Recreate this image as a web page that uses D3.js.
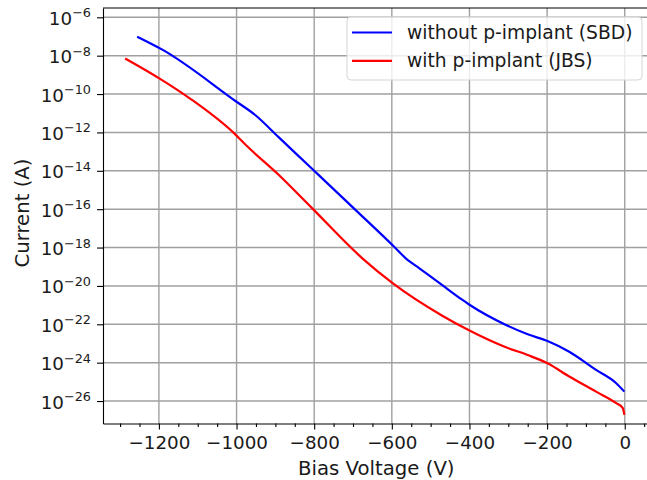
<!DOCTYPE html>
<html>
<head>
<meta charset="utf-8">
<script src="https://cdn.jsdelivr.net/npm/d3@7"></script>
<style>
  body { margin: 0; background: #fff; }
  svg { display: block; font-family: "DejaVu Sans", sans-serif; }
  .grid line { stroke: #a0a0a0; stroke-width: 1.4; }
  .axis path, .axis line { stroke: #000; stroke-width: 1.1; }
  .axis text { font-family: "DejaVu Sans", sans-serif; font-size: 18.3px; fill: #1a1a1a; }
</style>
</head>
<body>
<div id="chart"></div>
<script>
// reverse-bias IV data
const voltsSBD = [-1256, -1190, -1001, -952, -891, -800, -693, -594, -564, -529, -470, -418, -400, -306, -250, -199, -143, -74, -22, -1];
const currentSBD = [9.8e-8, 2.0e-8, 4.1e-11, 8.1e-12, 5.5e-13, 1.0e-14, 8.9e-17, 1.1e-18, 2.75e-19, 8.3e-20, 1.1e-20, 1.86e-21, 1.05e-21, 9.3e-23, 3.0e-23, 1.35e-23, 3.7e-24, 4.2e-25, 8.5e-26, 3.1e-26];

const voltsJBS = [-1287, -1199, -1118, -1006, -976, -891, -805, -676, -598, -470, -400, -306, -250, -199, -143, -74, -22, -5, -1];
const currentJBS = [7.2e-9, 6.6e-10, 5.5e-11, 8.9e-13, 2.2e-13, 6.0e-15, 1.1e-16, 2.75e-19, 1.4e-20, 2.8e-22, 4.7e-23, 6.3e-24, 2.5e-24, 9.3e-25, 1.9e-25, 3.1e-26, 7.8e-27, 4.3e-27, 1.9e-27];

const xTicks = [-1200, -1000, -800, -600, -400, -200, 0];
const xMinorTicks = d3.range(-1300, 51, 50);
const yTickExps = [-26, -24, -22, -20, -18, -16, -14, -12, -10, -8, -6];

const seriesNames = ["without p-implant (SBD)", "with p-implant (JBS)"];
const seriesColors = ["#0000ff", "#ff0000"];

const width = 647, height = 480;
const plot = {left: 103, right: 649.6, top: 8, bottom: 423.5};

const x = d3.scaleLinear().domain([-1344, 64]).range([plot.left, plot.right]);
const y = d3.scaleLog().domain([Math.pow(10, -27.17), Math.pow(10, -5.515)]).range([plot.bottom, plot.top]);

const svg = d3.select("#chart").append("svg")
    .attr("width", width)
    .attr("height", height);

// grid
const grid = svg.append("g").attr("class", "grid");
grid.selectAll("line.gx").data(xTicks).enter().append("line")
    .attr("x1", d => x(d)).attr("x2", d => x(d))
    .attr("y1", plot.top).attr("y2", plot.bottom);
grid.selectAll("line.gy").data(yTickExps).enter().append("line")
    .attr("x1", plot.left).attr("x2", plot.right)
    .attr("y1", d => y(Math.pow(10, d))).attr("y2", d => y(Math.pow(10, d)));

// lines
const line = d3.line()
    .x(d => x(d[0]))
    .y(d => y(d[1]))
    .curve(d3.curveMonotoneX);

const series = [
    d3.zip(voltsSBD, currentSBD),
    d3.zip(voltsJBS, currentJBS)
];

series.forEach((s, i) => {
    svg.append("path")
        .datum(s)
        .attr("fill", "none")
        .attr("stroke", seriesColors[i])
        .attr("stroke-width", 2.2)
        .attr("stroke-linejoin", "round")
        .attr("d", line);
});

// x axis (minor then major)
svg.append("g")
    .attr("class", "axis")
    .attr("transform", "translate(0," + plot.bottom + ")")
    .call(d3.axisBottom(x).tickValues(xMinorTicks.filter(v => v % 200 !== 0)).tickSize(3.5).tickFormat("").tickSizeOuter(0))
    .call(g => g.select(".domain").remove());

svg.append("g")
    .attr("class", "axis")
    .attr("transform", "translate(0," + plot.bottom + ")")
    .call(d3.axisBottom(x).tickValues(xTicks).tickSize(6).tickPadding(6.5).tickFormat(d3.format("")).tickSizeOuter(0));

// y axis, labels as 10^n
const yAxis = svg.append("g")
    .attr("class", "axis")
    .attr("transform", "translate(" + plot.left + ",0)")
    .call(d3.axisLeft(y).tickValues(yTickExps.map(e => Math.pow(10, e))).tickSize(6).tickFormat("").tickSizeOuter(0));

yAxis.selectAll(".tick").each(function(d) {
    const e = Math.round(Math.log10(d));
    const t = d3.select(this).append("text")
        .attr("x", -12)
        .attr("y", 7)
        .attr("text-anchor", "end");
    t.append("tspan").text("10");
    t.append("tspan")
        .attr("dy", -7.5)
        .style("font-size", "12.8px")
        .text("\u2212" + Math.abs(e));
});

// top spine
svg.append("line")
    .attr("x1", plot.left).attr("x2", plot.right)
    .attr("y1", plot.top).attr("y2", plot.top)
    .attr("stroke", "#000").attr("stroke-width", 1.1);

// axis labels
svg.append("text")
    .attr("x", (plot.left + plot.right) / 2)
    .attr("y", 475)
    .attr("text-anchor", "middle")
    .style("font-size", "19.7px")
    .style("fill", "#1a1a1a")
    .text("Bias Voltage (V)");

svg.append("text")
    .attr("transform", "translate(28.5,213) rotate(-90)")
    .attr("text-anchor", "middle")
    .style("font-size", "19.7px")
    .style("fill", "#1a1a1a")
    .text("Current (A)");

// legend
const legend = svg.append("g").attr("transform", "translate(347,17)");
legend.append("rect")
    .attr("width", 295).attr("height", 63)
    .attr("rx", 4)
    .attr("fill", "#fff").attr("fill-opacity", 0.8)
    .attr("stroke", "#d5d5d5");
seriesNames.forEach((name, i) => {
    const yy = 15.5 + i * 28.4;
    legend.append("line")
        .attr("x1", 5).attr("x2", 45)
        .attr("y1", yy).attr("y2", yy)
        .attr("stroke", seriesColors[i]).attr("stroke-width", 2.2);
    legend.append("text")
        .attr("x", 60).attr("y", yy + 6.5)
        .style("font-size", "18.7px")
        .style("fill", "#1a1a1a")
        .text(name);
});
</script>
</body>
</html>
